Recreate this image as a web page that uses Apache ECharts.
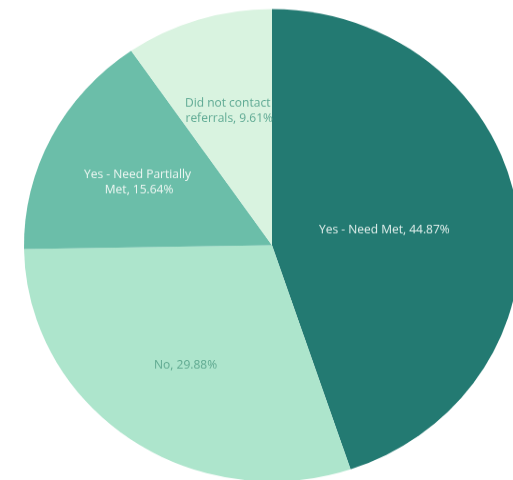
<!DOCTYPE html>
<html>
<head>
<meta charset="utf-8">
<script src="https://cdn.jsdelivr.net/npm/echarts@6/dist/echarts.min.js"></script>
<style>
  html, body { margin: 0; padding: 0; background: #fff; overflow: hidden; width: 513px; height: 480px; }
  /* the reference pie is a little flattened, so draw it taller and squeeze it */
  #chart { width: 513px; height: 504px; transform: scaleY(0.9524); transform-origin: 0 0; }
</style>
</head>
<body>
<div id="chart"></div>
<script>
// data
var categories = ['Yes - Need Met', 'No', 'Yes - Need Partially Met', 'Did not contact referrals'];
var percents = [44.87, 29.88, 15.64, 9.61];

// look of each slice
var sliceColors = ['#237a72', '#ade5cc', '#6bbea9', '#d9f3e0'];
var labelColors = ['#e4f1ee', '#5fa990', '#eef7f3', '#5ea993'];
var labelOffsets = [[-13, 4], [-13, 22], [-20, -8], [-5, -20]];
var labelWidths = [200, 200, 118, 92];

var chart = echarts.init(document.getElementById('chart'));

var items = categories.map(function (name, i) {
    return {
        name: name,
        value: percents[i],
        itemStyle: { color: sliceColors[i] },
        label: {
            color: labelColors[i],
            offset: labelOffsets[i],
            width: labelWidths[i]
        }
    };
});

var option = {
    backgroundColor: '#ffffff',
    animation: false,
    series: [
        {
            type: 'pie',
            center: [272, 257.5],
            radius: [0, 248],
            startAngle: 90,
            clockwise: true,
            avoidLabelOverlap: false,
            itemStyle: { borderWidth: 0 },
            label: {
                show: true,
                position: 'inside',
                fontFamily: 'Open Sans',
                fontSize: 12,
                lineHeight: 16,
                overflow: 'break',
                align: 'center',
                formatter: function (p) {
                    return p.name + ', ' + p.value.toFixed(2) + '%';
                }
            },
            labelLine: { show: false },
            data: items
        }
    ]
};

chart.setOption(option);
</script>
</body>
</html>
